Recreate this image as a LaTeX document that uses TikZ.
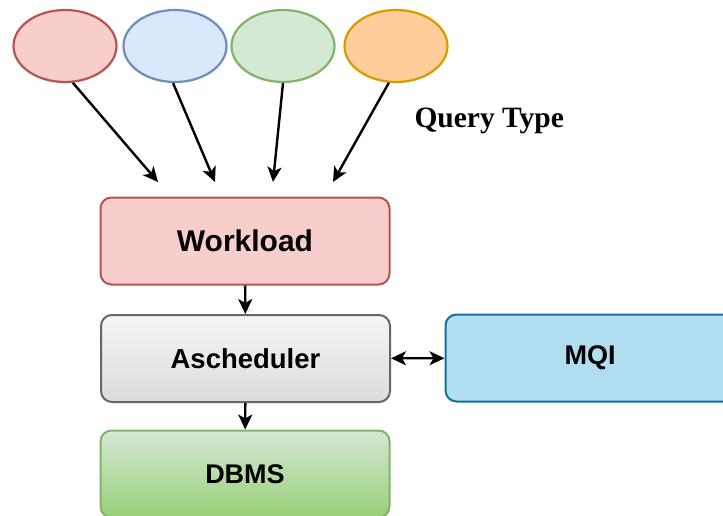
\documentclass[tikz,border=0pt]{standalone}
\usepackage{fontspec}
\setmainfont{Liberation Serif}
\setsansfont{Liberation Sans}
\usetikzlibrary{shapes.geometric,arrows.meta}
\definecolor{redF}{HTML}{F8CECC}
\definecolor{redS}{HTML}{B85450}
\definecolor{blueF}{HTML}{DAE8FC}
\definecolor{blueS}{HTML}{6C8EBF}
\definecolor{greenF}{HTML}{D5E8D4}
\definecolor{greenS}{HTML}{82B366}
\definecolor{greenG}{HTML}{97D077}
\definecolor{orangeF}{HTML}{FFCD9A}
\definecolor{orangeS}{HTML}{D79B00}
\definecolor{grayF}{HTML}{F5F5F5}
\definecolor{grayG}{HTML}{DCDCDC}
\definecolor{grayS}{HTML}{666666}
\definecolor{mqiF}{HTML}{B1DDF0}
\definecolor{mqiS}{HTML}{10739E}
\tikzset{
  qtype/.style={ellipse, draw, line width=2.2pt, minimum width=103pt, minimum height=72pt, inner sep=0pt},
  block/.style={rectangle, rounded corners=11pt, draw, line width=2pt, minimum width=289pt, minimum height=87pt, inner sep=0pt, font=\sffamily\bfseries\fontsize{27}{30}\selectfont},
  conn/.style={line width=2.4pt, -{Stealth[length=15pt,width=14pt,inset=4pt]}},
  dconn/.style={line width=2.4pt, {Stealth[length=15pt,width=14pt,inset=4pt]}-{Stealth[length=15pt,width=14pt,inset=4pt]}},
}
\begin{document}
\begin{tikzpicture}[x=1pt,y=-1pt]
\useasboundingbox (0,0) rectangle (723,516);
\clip (0,0) rectangle (723,516);
\node[qtype, fill=redF, draw=redS] (e1) at (65,46) {};
\node[qtype, fill=blueF, draw=blueS] (e2) at (175,46) {};
\node[qtype, fill=greenF, draw=greenS] (e3) at (283,46) {};
\node[qtype, fill=orangeF, draw=orangeS] (e4) at (396,46) {};
\coordinate (t1) at (158,182);
\coordinate (t2) at (215,182);
\coordinate (t3) at (273,182);
\coordinate (t4) at (333,182);
\draw[conn] (e1.-78) -- (t1);
\draw[conn] (e2.-93) -- (t2);
\draw[conn] (e3.-90) -- (t3);
\draw[conn] (e4.-101) -- (t4);
\node[anchor=base west, font=\bfseries\fontsize{29.5}{33}\selectfont] (qt) at (411,128) {Query Type};
\node[block, fill=redF, draw=redS, font=\sffamily\bfseries\fontsize{30}{33}\selectfont] (w) at (245,241) {Workload};
\node[block, top color=grayF, bottom color=grayG, draw=grayS, font=\sffamily\bfseries\fontsize{27.5}{31}\selectfont] (a) at (245.5,358.5) {Ascheduler};
\node[block, fill=mqiF, draw=mqiS] (m) at (590,358) {MQI};
\node[block, top color=greenF, bottom color=greenG, draw=greenS] (d) at (245,474) {DBMS};
\draw[conn] (w) -- (a);
\draw[conn] (a) -- (d);
\draw[dconn] (a) -- (m);
\end{tikzpicture}
\end{document}
